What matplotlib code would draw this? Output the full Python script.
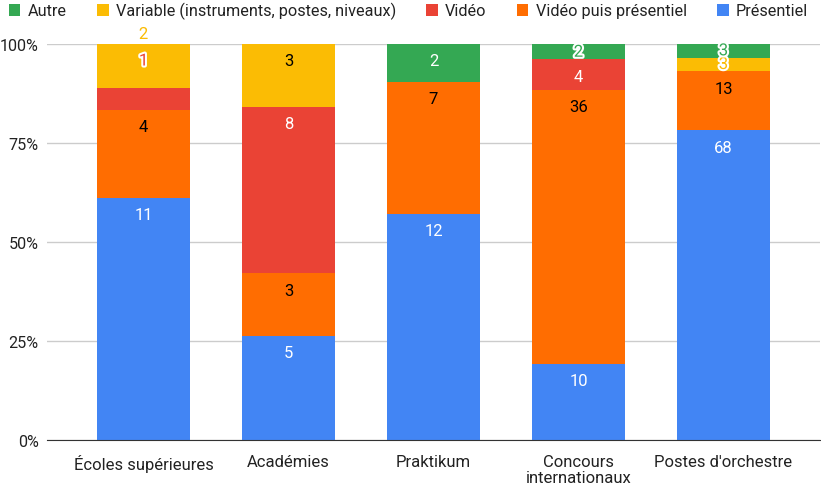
import matplotlib
matplotlib.use("Agg")
import matplotlib.pyplot as plt
import matplotlib.patheffects as pe
from matplotlib.ticker import FuncFormatter
import numpy as np

plt.rcParams['font.family'] = ['Roboto', 'DejaVu Sans']

categories = ["Écoles supérieures", "Académies", "Praktikum", "Concours\ninternationaux", "Postes d'orchestre"]
series_names = ["Présentiel", "Vidéo puis présentiel", "Vidéo", "Variable (instruments, postes, niveaux)", "Autre"]
presentiel = [11, 5, 12, 10, 68]
video_puis = [4, 3, 7, 36, 13]
video = [1, 8, 0, 4, 0]
variable = [2, 3, 0, 0, 3]
autre = [0, 0, 2, 2, 3]

colors = ["#4285F4", "#FF6D01", "#EA4335", "#FBBC04", "#34A853"]
text_colors = ["white", "black", "white", "black", "white"]

data = np.array([presentiel, video_puis, video, variable, autre], dtype=float)
totals = data.sum(axis=0)
pct = data / totals * 100

fig = plt.figure(figsize=(8.21, 4.85), dpi=100)
ax = fig.add_axes([47/821, 44/485, (820-47)/821, 396/485])

px = 100 / 396.0  # data units per pixel
FS = 12

x = np.arange(len(categories))
width = 0.64
bottom = np.zeros(len(categories))
bars = []
for i in range(len(series_names)):
    b = ax.bar(x, pct[i], width, bottom=bottom, color=colors[i], label=series_names[i],
               zorder=3, edgecolor='none')
    bars.append(b)
    bottom += pct[i]

# value labels (placed near the top of each segment, like the original)
bottom = np.zeros(len(categories))
for i in range(len(series_names)):
    for j in range(len(categories)):
        v = data[i, j]
        h = pct[i, j]
        top = bottom[j] + h
        if v == 0:
            continue
        off = min(17 * px, max(h - 7 * px, h / 2))
        yc = top - off
        small = h < 6
        # collision handling for the crowded top of "Écoles supérieures"
        if j == 0 and i == 2:
            yc = 100 - 17 * px
        elif j == 0 and i == 3:
            yc = 100 + 9.5 * px
        if small or (j == 0 and i in (2, 3)):
            ax.text(x[j], yc, f"{int(v)}", ha='center', va='center', fontsize=FS,
                    color=colors[i], zorder=5, clip_on=False,
                    path_effects=[pe.withStroke(linewidth=3, foreground='white')])
        else:
            ax.text(x[j], yc, f"{int(v)}", ha='center', va='center', fontsize=FS,
                    color=text_colors[i], zorder=5)
    bottom += pct[i]

ax.set_xlim(-0.666, 4.666)
ax.set_ylim(0, 100)
ax.set_yticks([0, 25, 50, 75, 100])
ax.yaxis.set_major_formatter(FuncFormatter(lambda v, p: f"{int(v)}%"))
ax.set_xticks(x)
ax.set_xticklabels(categories, fontsize=FS, color='#222222', linespacing=1.1)
ax.tick_params(axis='y', labelsize=11.6, colors='#222222', length=0, pad=6)
ax.tick_params(axis='x', length=0, pad=10)
ax.grid(axis='y', color='#cccccc', linewidth=1, zorder=0)
for s in ['top', 'right', 'left']:
    ax.spines[s].set_visible(False)
ax.spines['bottom'].set_color('#333333')
ax.spines['bottom'].set_zorder(4)

handles = [bars[i] for i in [4, 3, 2, 1, 0]]
labels = [series_names[i] for i in [4, 3, 2, 1, 0]]
fig.legend(handles, labels, loc='upper center', bbox_to_anchor=(0.4975, 1.024), ncol=5,
           frameon=False, fontsize=11.7, handlelength=0.72, handleheight=0.72,
           handletextpad=0.45, columnspacing=1.85, labelcolor='#222222')

fig.savefig("out.png", dpi=100)
